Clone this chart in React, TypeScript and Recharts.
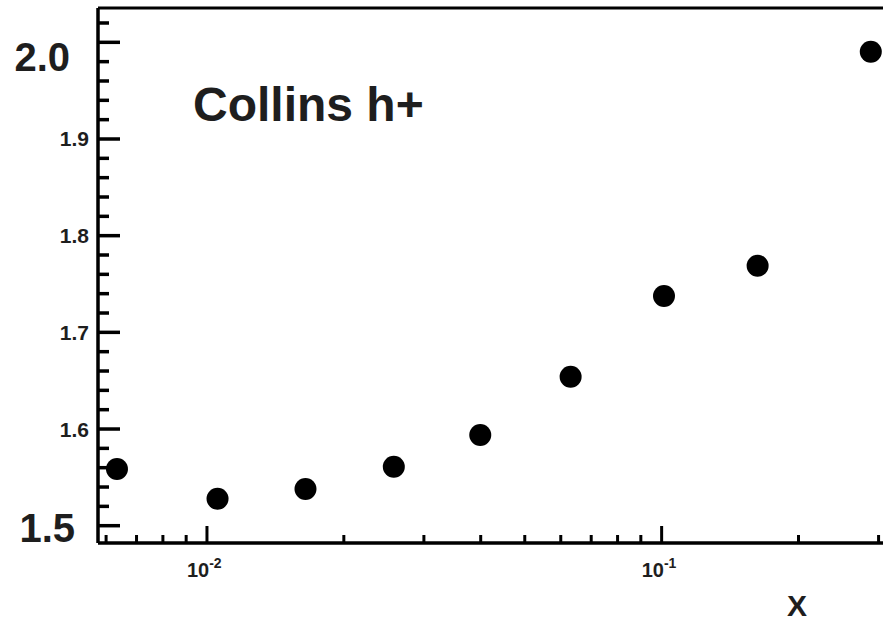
import { ScatterChart, Scatter, XAxis, YAxis, ReferenceLine } from "recharts";

// measured points (x on log scale)
const xValues = [0.00634, 0.01055, 0.01647, 0.02576, 0.03991, 0.06307, 0.1012, 0.1626, 0.2884];
const yValues = [1.5586, 1.5279, 1.538, 1.561, 1.5938, 1.6541, 1.7376, 1.7689, 1.9903];

const xTicks = [
  0.006, 0.007, 0.008, 0.009, 0.01, 0.02, 0.03, 0.04, 0.05, 0.06, 0.07, 0.08, 0.09, 0.1, 0.2, 0.3,
];
const xMajor = [0.01, 0.1];
const xMajorLabels = ["-2", "-1"];

const yTicks = [
  1.5, 1.52, 1.54, 1.56, 1.58, 1.6, 1.62, 1.64, 1.66, 1.68, 1.7, 1.72, 1.74, 1.76, 1.78, 1.8, 1.82,
  1.84, 1.86, 1.88, 1.9, 1.92, 1.94, 1.96, 1.98, 2.0, 2.02,
];
const yMajor = [1.5, 1.6, 1.7, 1.8, 1.9, 2.0];

const X_DOMAIN: [number, number] = [0.005759, 0.3068];
const Y_DOMAIN: [number, number] = [1.4821, 2.0355];

const points = xValues.map((x, i) => ({ x, y: yValues[i] }));

const font = "'Liberation Sans', Arial, sans-serif";
const ink = "#1e1e1e";

const isMajor = (list: number[], v: number) => list.some((m) => Math.abs(m - v) < 1e-9);

function XTick({ x, y, payload }: any) {
  const v = payload.value;
  const major = isMajor(xMajor, v);
  const idx = xMajor.findIndex((m) => Math.abs(m - v) < 1e-9);
  return (
    <g>
      <line x1={x} x2={x} y1={y} y2={y - (major ? 17 : 8)} stroke="#000" strokeWidth={3} />
      {major && (
        <text x={x - 20} y={577} fontFamily={font} fontWeight="bold" fontSize={20} fill={ink}>
          10
          <tspan dy={-9} fontSize={14}>
            {xMajorLabels[idx]}
          </tspan>
        </text>
      )}
    </g>
  );
}

function YTick({ x, y, payload }: any) {
  const v = payload.value;
  const major = isMajor(yMajor, v);
  let label = null;
  if (major) {
    const txt = v.toFixed(1);
    if (txt === "2.0") {
      label = (
        <text x={70} y={71} textAnchor="end" fontFamily={font} fontWeight="bold" fontSize={40} fill={ink}>
          {txt}
        </text>
      );
    } else if (txt === "1.5") {
      label = (
        <text x={75} y={542} textAnchor="end" fontFamily={font} fontWeight="bold" fontSize={40} fill={ink}>
          {txt}
        </text>
      );
    } else {
      label = (
        <text x={89} y={y + 7.5} textAnchor="end" fontFamily={font} fontWeight="bold" fontSize={21} fill={ink}>
          {txt}
        </text>
      );
    }
  }
  return (
    <g>
      <line x1={x} x2={x + (major ? 22 : 11)} y1={y} y2={y} stroke="#000" strokeWidth={3.5} />
      {label}
    </g>
  );
}

export default function App() {
  return (
    <div style={{ position: "absolute", left: 0, top: 0, width: 883, height: 623, background: "#fff" }}>
      <ScatterChart width={883} height={623} margin={{ top: 8, right: 0, bottom: 0, left: 0 }}>
        <XAxis
          type="number"
          dataKey="x"
          scale="log"
          domain={X_DOMAIN}
          allowDataOverflow
          ticks={xTicks}
          interval={0}
          tick={<XTick />}
          tickSize={0}
          tickMargin={0}
          tickLine={false}
          axisLine={{ stroke: "#000", strokeWidth: 3.5 }}
          height={80}
        />
        <YAxis
          type="number"
          dataKey="y"
          domain={Y_DOMAIN}
          allowDataOverflow
          ticks={yTicks}
          interval={0}
          tick={<YTick />}
          tickSize={0}
          tickMargin={0}
          tickLine={false}
          axisLine={{ stroke: "#000", strokeWidth: 3.5 }}
          width={98}
        />
        <ReferenceLine y={Y_DOMAIN[1]} stroke="#000" strokeWidth={3} />
        <Scatter
          data={points}
          isAnimationActive={false}
          shape={(p: any) => <circle cx={p.cx} cy={p.cy} r={11} fill="#000" />}
        />
        <text x={193} y={121} fontFamily={font} fontWeight="bold" fontSize={48} fill={ink}>
          Collins h+
        </text>
        <text x={797} y={616} textAnchor="middle" fontFamily={font} fontWeight="bold" fontSize={30} fill={ink}>
          X
        </text>
      </ScatterChart>
    </div>
  );
}
